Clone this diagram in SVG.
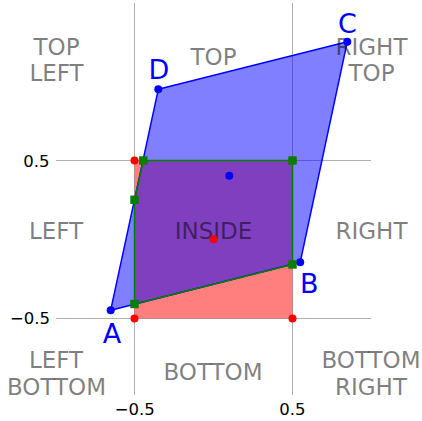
<svg xmlns="http://www.w3.org/2000/svg" width="422" height="421" viewBox="0 0 422 421">
<style>
.grid{stroke:#b0b0b0;stroke-width:1;fill:none}
.region{font-family:"DejaVu Sans",sans-serif;font-size:23px;fill:#000;fill-opacity:0.5;text-anchor:middle}
.tick{font-family:"DejaVu Sans",sans-serif;font-size:16.5px;fill:#000}
.lbl{font-family:"DejaVu Sans",sans-serif;font-size:27px;fill:#0000ff;text-anchor:middle}
.rdot{fill:#ff0000}
.bdot{fill:#0000ff}
.gsq{fill:#008000}
</style>
<rect width="422" height="421" fill="#ffffff"/>
<g id="grid">
<line class="grid" x1="134.5" y1="3" x2="134.5" y2="395"/>
<line class="grid" x1="292.5" y1="3" x2="292.5" y2="395"/>
<line class="grid" x1="56" y1="160.5" x2="371" y2="160.5"/>
<line class="grid" x1="56" y1="318.5" x2="371" y2="318.5"/>
</g>
<g id="square">
<rect x="134.5" y="160.5" width="158" height="158" fill="#ff0000" fill-opacity="0.5"/>
</g>
<g id="parallelogram">
<polygon points="110.7,310.2 300.2,262.3 347.3,41.7 158.3,89.3" fill="#0000ff" fill-opacity="0.5" stroke="#0000ff" stroke-width="1.5" stroke-linejoin="round"/>
</g>
<g id="connectors">
<polygon points="143.3,160.5 292.5,160.5 292.5,264.5 134.5,304 134.5,199.8" fill="none" stroke="#008000" stroke-width="1.5" stroke-linejoin="round"/>
</g>
<g id="regions">
<text class="region" x="56.5" y="55">TOP</text>
<text class="region" x="56.5" y="81">LEFT</text>
<text class="region" x="213.5" y="65">TOP</text>
<text class="region" x="371.5" y="54.5">RIGHT</text>
<text class="region" x="371.5" y="80.7">TOP</text>
<text class="region" x="56" y="239">LEFT</text>
<text class="region" x="213.5" y="239">INSIDE</text>
<text class="region" x="371.5" y="238.5">RIGHT</text>
<text class="region" x="56" y="368">LEFT</text>
<text class="region" x="56.5" y="395">BOTTOM</text>
<text class="region" x="213" y="380">BOTTOM</text>
<text class="region" x="371" y="368">BOTTOM</text>
<text class="region" x="371" y="395">RIGHT</text>
</g>
<g id="square-points">
<circle class="rdot" cx="134.5" cy="160.5" r="4"/>
<circle class="rdot" cx="292.5" cy="160.5" r="4"/>
<circle class="rdot" cx="134.5" cy="318.5" r="4"/>
<circle class="rdot" cx="292.5" cy="318.5" r="4"/>
<circle class="rdot" cx="213.5" cy="239.3" r="4"/>
</g>
<g id="polygon-points">
<circle class="bdot" cx="110.7" cy="310.2" r="4"/>
<circle class="bdot" cx="300.2" cy="262.3" r="4"/>
<circle class="bdot" cx="347.3" cy="41.7" r="4"/>
<circle class="bdot" cx="158.3" cy="89.3" r="4"/>
<circle class="bdot" cx="229.3" cy="175.7" r="4"/>
</g>
<g id="intersection-points">
<rect class="gsq" x="139.1" y="156.3" width="8.4" height="8.4"/>
<rect class="gsq" x="288.3" y="156.3" width="8.4" height="8.4"/>
<rect class="gsq" x="288.3" y="260.3" width="8.4" height="8.4"/>
<rect class="gsq" x="130.3" y="299.8" width="8.4" height="8.4"/>
<rect class="gsq" x="130.3" y="195.6" width="8.4" height="8.4"/>
</g>
<g id="labels">
<text class="lbl" x="112" y="343">A</text>
<text class="lbl" x="309.3" y="293">B</text>
<text class="lbl" x="347.5" y="33">C</text>
<text class="lbl" x="159" y="79">D</text>
</g>
<g id="ticks">
<text class="tick" x="49.5" y="166.7" text-anchor="end">0.5</text>
<text class="tick" x="50" y="324" text-anchor="end">−0.5</text>
<text class="tick" x="134.8" y="415" text-anchor="middle">−0.5</text>
<text class="tick" x="292.3" y="415" text-anchor="middle">0.5</text>
</g>
</svg>
